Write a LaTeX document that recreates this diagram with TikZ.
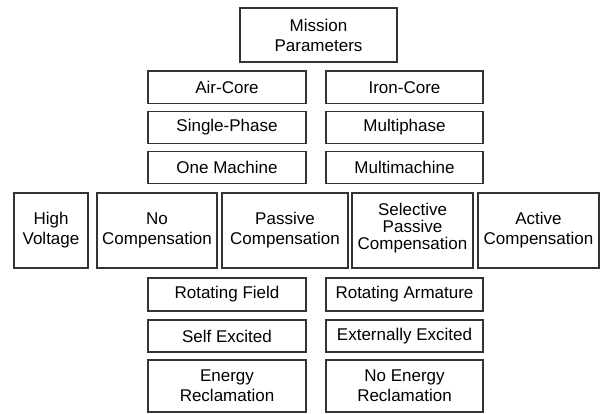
\documentclass[tikz,border=0pt]{standalone}
\usepackage{fontspec}
\setmainfont{Liberation Sans}
\begin{document}
\begin{tikzpicture}[x=1pt,y=-1pt,
  box/.style={draw=black!80, line width=1.15pt, inner sep=0pt, align=center,
    font=\fontsize{17}{20}\selectfont},
  txt/.style={inner sep=0pt, align=center, font=\fontsize{17}{17}\selectfont}]
\useasboundingbox[fill=white] (0,0) rectangle (600,413);
\node[box, minimum width=157pt, minimum height=54pt] (mp) at (318.5,35) {Mission\\Parameters};
\node[box, minimum width=158pt, minimum height=32.5pt] (ac) at (227,87.25) {Air-Core};
\node[box, minimum width=157pt, minimum height=32.5pt] (ic) at (404.5,87.25) {Iron-Core};
\node[box, minimum width=158pt, minimum height=32pt] (sp) at (227,127.5) {Single-Phase};
\node[box, minimum width=157pt, minimum height=32pt] (mph) at (404.5,127.5) {Multiphase};
\node[box, minimum width=158pt, minimum height=32pt] (om) at (227,167.5) {One Machine};
\node[box, minimum width=157pt, minimum height=32pt] (mm) at (404.5,167.5) {Multimachine};
\node[box, minimum width=74pt, minimum height=75pt] (hv) at (51,230.5) {High\\Voltage};
\node[box, minimum width=120pt, minimum height=75pt] (nc) at (157,230.5) {No\\Compensation};
\node[box, minimum width=126pt, minimum height=75pt] (pc) at (285,230.5) {Passive\\Compensation};
\node[box, minimum width=121pt, minimum height=75pt] (spc) at (412.5,230.5) {};
\node[txt] (spct) at (412.5,228) {Selective\\Passive\\Compensation};
\node[box, minimum width=121pt, minimum height=75pt] (acp) at (538.5,230.5) {Active\\Compensation};
\node[box, minimum width=158pt, minimum height=33pt] (rf) at (227,294.5) {Rotating Field};
\node[box, minimum width=157pt, minimum height=33pt] (ra) at (404.5,294.5) {Rotating Armature};
\node[box, minimum width=158pt, minimum height=32pt] (se) at (227,336) {Self Excited};
\node[box, minimum width=157pt, minimum height=32pt] (ee) at (404.5,336) {Externally Excited};
\node[box, minimum width=158pt, minimum height=52pt] (er) at (227,386) {Energy\\Reclamation};
\node[box, minimum width=157pt, minimum height=52pt] (ner) at (404.5,386) {No Energy\\Reclamation};
\end{tikzpicture}
\end{document}
